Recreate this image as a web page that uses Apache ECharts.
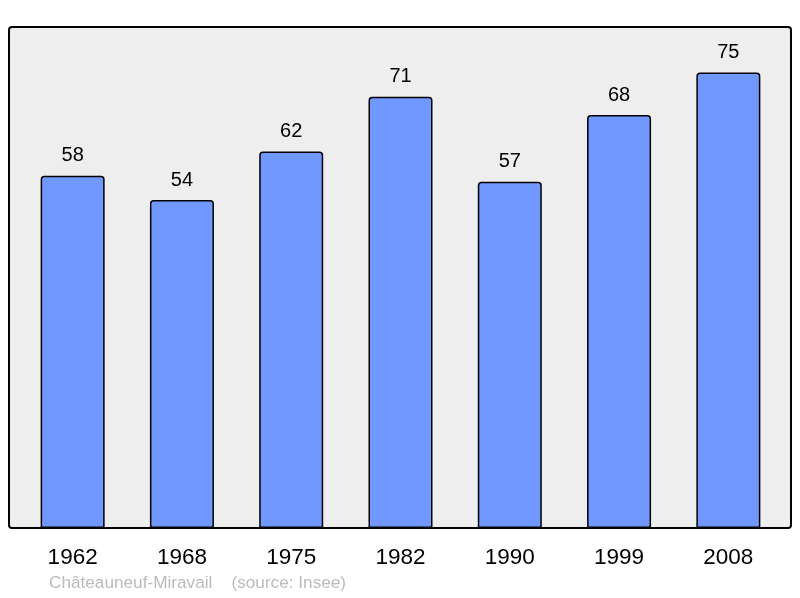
<!DOCTYPE html>
<html><head><meta charset="utf-8">
<script src="https://cdn.jsdelivr.net/npm/echarts@6/dist/echarts.min.js"></script>
<style>html,body{margin:0;padding:0;background:#fff}#c{width:800px;height:598px}</style>
</head><body><div id="c"></div>
<script>
var categories = ['1962','1968','1975','1982','1990','1999','2008'];
var population = [58, 54, 62, 71, 57, 68, 75];
var footerText = 'Châteauneuf-Miravail    (source: Insee)';

var chart = echarts.init(document.getElementById('c'), null, {renderer:'canvas'});
chart.setOption({
  animation: false,
  backgroundColor: '#ffffff',
  graphic: [
    {type:'rect', z:-10, shape:{x:9, y:27, width:782, height:501, r:3},
     style:{fill:'#eeeeee', stroke:'#000', lineWidth:2}},
    {type:'text', left:49, top:575, style:{text:footerText, fill:'#bbbbbb', font:'17.2px "Liberation Sans", Arial, sans-serif'}}
  ],
  grid: {left:18, right:17, top:27, bottom:70, containLabel:false},
  xAxis: {
    type:'category', data:categories,
    axisLine:{show:false}, axisTick:{show:false},
    axisLabel:{color:'#000', fontSize:22.5, margin:18, fontFamily:'"Liberation Sans", Arial, sans-serif'}
  },
  yAxis: {
    type:'value', min:0, max:82.5, show:false, splitLine:{show:false}
  },
  series: [{
    type:'bar', data:population, barWidth:64,
    itemStyle:{color:'#7098ff', borderColor:'#000', borderWidth:1.5, borderRadius:[3,3,0,0]},
    label:{show:true, position:'top', distance:10, color:'#000', fontSize:20,
      fontFamily:'"Liberation Sans", Arial, sans-serif'}
  }]
});
</script></body></html>
